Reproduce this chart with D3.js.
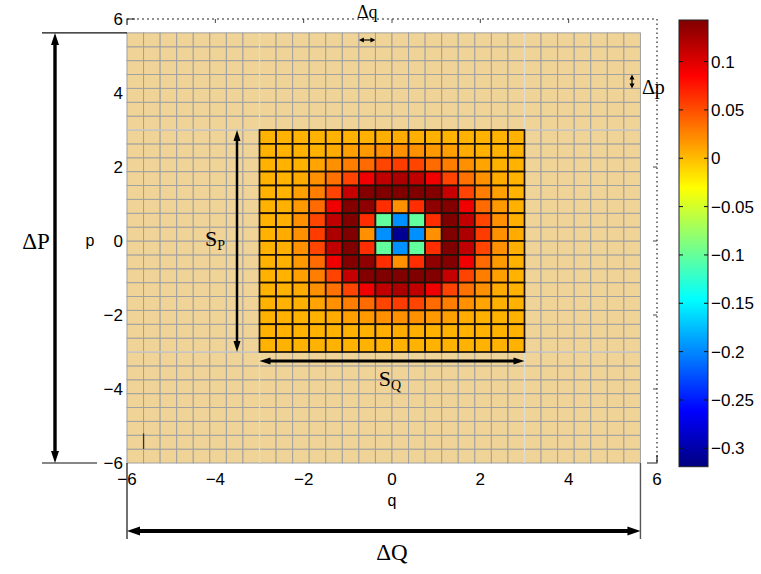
<!DOCTYPE html>
<html>
<head>
<meta charset="utf-8">
<script src="https://cdn.jsdelivr.net/npm/d3@7/dist/d3.min.js"></script>
<style>
  html, body { margin: 0; padding: 0; background: #fff; }
  svg { display: block; }
</style>
</head>
<body>
<svg id="chart" width="761" height="574"></svg>
<script>
// ---------------- DATA ----------------
const qTicks = [-6, -4, -2, 0, 2, 4, 6];
const pTicks = [-6, -4, -2, 0, 2, 4, 6];
const colorbarTicks = [0.1, 0.05, 0, -0.05, -0.1, -0.15, -0.2, -0.25, -0.3];
const colorbarLabels = ["0.1", "0.05", "0", "\u22120.05", "\u22120.1", "\u22120.15", "\u22120.2", "\u22120.25", "\u22120.3"];
const colorRange = [-0.319, 0.143];

// outer grid (phase-space cells)
const cellSize = 0.375;          // Δq = Δp
const gridStart = -6;            // first cell edge
const gridCells = 31;            // cells per side
// inner (support) region S_Q x S_P
const innerStart = -3;           // q and p of inner edge
const innerCells = 16;

// cell values of the inner region, rows from p = 3 (top) down to p = -3, columns from q = -3 to q = 3
const innerValues = [
  [.004,.004,.004,.004,.004,.004,.005,.006,.008,.006,.005,.004,.004,.004,.004,.004],
  [.004,.004,.004,.005,.008,.013,.016,.020,.020,.020,.016,.013,.008,.005,.004,.004],
  [.004,.004,.005,.011,.020,.028,.037,.054,.058,.054,.037,.028,.020,.011,.005,.004],
  [.004,.004,.008,.020,.034,.055,.092,.114,.123,.114,.092,.055,.034,.020,.008,.004],
  [.004,.004,.013,.028,.055,.111,.141,.143,.143,.143,.141,.111,.055,.028,.013,.004],
  [.004,.005,.016,.037,.092,.141,.136,.065,.020,.065,.136,.141,.092,.037,.016,.005],
  [.004,.006,.020,.054,.114,.143,.065,-.102,-.196,-.102,.065,.143,.114,.054,.020,.006],
  [.004,.008,.020,.058,.123,.143,.020,-.196,-.310,-.196,.020,.143,.123,.058,.020,.008],
  [.004,.006,.020,.054,.114,.143,.065,-.102,-.196,-.102,.065,.143,.114,.054,.020,.006],
  [.004,.005,.016,.037,.092,.141,.136,.065,.020,.065,.136,.141,.092,.037,.016,.005],
  [.004,.004,.013,.028,.055,.111,.141,.143,.143,.143,.141,.111,.055,.028,.013,.004],
  [.004,.004,.008,.020,.034,.055,.092,.114,.123,.114,.092,.055,.034,.020,.008,.004],
  [.004,.004,.005,.011,.020,.028,.037,.054,.058,.054,.037,.028,.020,.011,.005,.004],
  [.004,.004,.004,.005,.008,.013,.016,.020,.020,.020,.016,.013,.008,.005,.004,.004],
  [.004,.004,.004,.004,.004,.004,.005,.006,.008,.006,.005,.004,.004,.004,.004,.004],
  [.004,.004,.004,.004,.004,.004,.004,.004,.004,.004,.004,.004,.004,.004,.004,.004]
];

// ---------------- DRAWING ----------------
const svg = d3.select("#chart");
const x = d3.scaleLinear().domain([-6, 6]).range([127, 657]);
const y = d3.scaleLinear().domain([-6, 6]).range([463, 19]);

function jet(t) {
  t = Math.max(0, Math.min(1, t));
  const c = v => Math.round(255 * Math.max(0, Math.min(1, v)));
  return `rgb(${c(1.5 - Math.abs(4 * t - 3))},${c(1.5 - Math.abs(4 * t - 2))},${c(1.5 - Math.abs(4 * t - 1))})`;
}
const tScale = d3.scaleLinear().domain(colorRange).range([0, 1]).clamp(true);
const color = v => jet(tScale(v));

const sansFont = "'Liberation Sans', Arial, Helvetica, sans-serif";
const serifFont = "'Liberation Serif', 'DejaVu Serif', serif";

// outer grid cells
const outer = [];
for (let i = 0; i < gridCells; i++) for (let j = 0; j < gridCells; j++) {
  outer.push({ q: gridStart + i * cellSize, p: gridStart + j * cellSize });
}
svg.append("g").selectAll("rect").data(outer).join("rect")
  .attr("x", d => x(d.q)).attr("y", d => y(d.p + cellSize))
  .attr("width", d => x(d.q + cellSize) - x(d.q))
  .attr("height", d => y(d.p) - y(d.p + cellSize))
  .attr("fill", "#f0d396").attr("stroke", "#a0a0a0").attr("stroke-width", 1);

// lighter grid lines continuing the inner region edges
const gEnd = gridStart + gridCells * cellSize;
const lg = svg.append("g").attr("stroke", "#dcdcdc").attr("stroke-width", 1.2);
[innerStart, innerStart + innerCells * cellSize].forEach(v => {
  lg.append("line").attr("x1", x(v)).attr("x2", x(v)).attr("y1", y(gEnd)).attr("y2", y(gridStart));
  lg.append("line").attr("y1", y(v)).attr("y2", y(v)).attr("x1", x(gridStart)).attr("x2", x(gEnd));
});

// inner cells
const inner = [];
innerValues.forEach((row, r) => row.forEach((v, c) => {
  inner.push({ q: innerStart + c * cellSize, pTop: innerStart + innerCells * cellSize - r * cellSize, v });
}));
svg.append("g").selectAll("rect").data(inner).join("rect")
  .attr("x", d => x(d.q)).attr("y", d => y(d.pTop))
  .attr("width", d => x(d.q + cellSize) - x(d.q))
  .attr("height", d => y(d.pTop - cellSize) - y(d.pTop))
  .attr("fill", d => color(d.v))
  .attr("stroke", "#1a1208").attr("stroke-width", 1.7);

// small mark near bottom-left
svg.append("line").attr("x1", x(gridStart + cellSize)).attr("x2", x(gridStart + cellSize))
  .attr("y1", y(-5.2)).attr("y2", y(-5.62)).attr("stroke", "#333").attr("stroke-width", 1.3);

// axes box: dotted top and right
svg.append("line").attr("x1", x(-6)).attr("x2", x(6)).attr("y1", y(6)).attr("y2", y(6))
  .attr("stroke", "#222").attr("stroke-width", 1.2).attr("stroke-dasharray", "2,3");
svg.append("line").attr("x1", x(6)).attr("x2", x(6)).attr("y1", y(6)).attr("y2", y(-6))
  .attr("stroke", "#222").attr("stroke-width", 1.2).attr("stroke-dasharray", "1.5,3");
// solid corners
svg.append("path").attr("d", `M${x(-6)},${y(6) + 6}V${y(6)}H${x(-6) + 8}`).attr("fill", "none").attr("stroke", "#222").attr("stroke-width", 1.2);
svg.append("path").attr("d", `M${x(6) - 10},${y(-6)}H${x(6)}V${y(-6) - 8}`).attr("fill", "none").attr("stroke", "#222").attr("stroke-width", 1.2);
// small ticks on top and right
svg.append("g").selectAll("line").data(qTicks.slice(1, -1)).join("line")
  .attr("x1", d => x(d)).attr("x2", d => x(d)).attr("y1", y(6)).attr("y2", y(6) + 4)
  .attr("stroke", "#444").attr("stroke-width", 1);
svg.append("g").selectAll("line").data(pTicks.slice(1, -1)).join("line")
  .attr("x1", x(6) - 4).attr("x2", x(6)).attr("y1", d => y(d)).attr("y2", d => y(d))
  .attr("stroke", "#444").attr("stroke-width", 1);

// tick labels
const fmt = d => (d < 0 ? "\u2212" + Math.abs(d) : String(d));
svg.append("g").selectAll("text").data(qTicks).join("text")
  .attr("x", d => x(d)).attr("y", 485).attr("text-anchor", "middle")
  .attr("font-family", sansFont).attr("font-size", 17).attr("fill", "#000")
  .text(fmt);
svg.append("g").selectAll("text").data(pTicks).join("text")
  .attr("x", 123).attr("y", d => y(d) + 6).attr("text-anchor", "end")
  .attr("font-family", sansFont).attr("font-size", 17).attr("fill", "#000")
  .text(fmt);

// axis labels
svg.append("text").attr("x", x(0)).attr("y", 506).attr("text-anchor", "middle")
  .attr("font-family", sansFont).attr("font-size", 16).attr("fill", "#000").text("q");
svg.append("text").attr("x", 90).attr("y", y(0) + 5).attr("text-anchor", "middle")
  .attr("font-family", sansFont).attr("font-size", 16).attr("fill", "#000").text("p");

// arrows
function arrow(x1, y1, x2, y2, w, hl, hw) {
  const dx = x2 - x1, dy = y2 - y1, L = Math.hypot(dx, dy);
  const ux = dx / L, uy = dy / L, nx = -uy, ny = ux;
  const g = svg.append("g");
  g.append("line").attr("x1", x1 + ux * hl * 0.8).attr("y1", y1 + uy * hl * 0.8)
    .attr("x2", x2 - ux * hl * 0.8).attr("y2", y2 - uy * hl * 0.8)
    .attr("stroke", "#000").attr("stroke-width", w);
  const head = (px, py, sx, sy) => {
    const bx = px - sx * hl, by = py - sy * hl;
    return `M${px},${py}L${bx + nx * hw},${by + ny * hw}L${bx - nx * hw},${by - ny * hw}Z`;
  };
  g.append("path").attr("d", head(x2, y2, ux, uy)).attr("fill", "#000");
  g.append("path").attr("d", head(x1, y1, -ux, -uy)).attr("fill", "#000");
}
// ΔP
svg.append("line").attr("x1", 42).attr("x2", x(-6)).attr("y1", y(gEnd)).attr("y2", y(gEnd)).attr("stroke", "#111").attr("stroke-width", 1.2);
svg.append("line").attr("x1", 42).attr("x2", 97).attr("y1", y(-6)).attr("y2", y(-6)).attr("stroke", "#111").attr("stroke-width", 1.2);
arrow(55, y(gEnd), 55, y(-6), 3.4, 12, 4);
svg.append("text").attr("x", 36).attr("y", y(0) + 8).attr("text-anchor", "middle")
  .attr("font-family", serifFont).attr("font-size", 23).attr("fill", "#000").text("\u0394P");
// ΔQ
svg.append("line").attr("x1", x(-6)).attr("x2", x(-6)).attr("y1", y(-6)).attr("y2", 539).attr("stroke", "#111").attr("stroke-width", 1.2);
svg.append("line").attr("x1", x(gEnd)).attr("x2", x(gEnd)).attr("y1", y(-6)).attr("y2", 539).attr("stroke", "#555").attr("stroke-width", 1.4);
arrow(x(-6), 531, x(gEnd), 531, 4, 13, 4.5);
svg.append("text").attr("x", x(0)).attr("y", 560).attr("text-anchor", "middle")
  .attr("font-family", serifFont).attr("font-size", 23).attr("fill", "#000").text("\u0394Q");
// S_Q
const inEnd = innerStart + innerCells * cellSize;
arrow(x(innerStart), 361, x(inEnd), 361, 3, 11, 3.5);
const sq = svg.append("text").attr("x", x(0) - 2).attr("y", 386).attr("text-anchor", "middle")
  .attr("font-family", serifFont).attr("font-size", 22).attr("fill", "#000");
sq.append("tspan").text("S");
sq.append("tspan").attr("font-size", 14).attr("dy", 4).text("Q");
// S_P
arrow(237, y(inEnd), 237, y(innerStart), 2.5, 11, 3.5);
const sp = svg.append("text").attr("x", 215).attr("y", y(0) + 5).attr("text-anchor", "middle")
  .attr("font-family", serifFont).attr("font-size", 22).attr("fill", "#000");
sp.append("tspan").text("S");
sp.append("tspan").attr("font-size", 14).attr("dy", 4).text("P");
// Δq
arrow(x(-0.75), 40, x(-0.375), 40, 1.2, 5, 2.5);
svg.append("text").attr("x", x(-0.56)).attr("y", 18).attr("text-anchor", "middle")
  .attr("font-family", serifFont).attr("font-size", 18).attr("fill", "#000").text("\u0394q");
// Δp
arrow(632, y(4.5), 632, y(4.125), 1.2, 5, 2.5);
svg.append("text").attr("x", 642).attr("y", 94).attr("text-anchor", "start")
  .attr("font-family", serifFont).attr("font-size", 20).attr("fill", "#000").text("\u0394p");

// colorbar
const cbX = 679, cbW = 29;
const cbY = d3.scaleLinear().domain(colorRange).range([466.7, 20]);
const defs = svg.append("defs");
const grad = defs.append("linearGradient").attr("id", "jet").attr("x1", 0).attr("x2", 0).attr("y1", 1).attr("y2", 0);
d3.range(0, 65).forEach(i => {
  grad.append("stop").attr("offset", i / 64).attr("stop-color", jet(i / 64));
});
svg.append("rect").attr("x", cbX).attr("y", cbY(colorRange[1])).attr("width", cbW)
  .attr("height", cbY(colorRange[0]) - cbY(colorRange[1]))
  .attr("fill", "url(#jet)").attr("stroke", "#222").attr("stroke-width", 1);
const cbt = svg.append("g");
colorbarTicks.forEach((v, i) => {
  cbt.append("line").attr("x1", cbX).attr("x2", cbX + 4).attr("y1", cbY(v)).attr("y2", cbY(v)).attr("stroke", "#111");
  cbt.append("line").attr("x1", cbX + cbW - 4).attr("x2", cbX + cbW).attr("y1", cbY(v)).attr("y2", cbY(v)).attr("stroke", "#111");
  cbt.append("text").attr("x", cbX + cbW + 3).attr("y", cbY(v) + 6)
    .attr("font-family", sansFont).attr("font-size", 17).attr("fill", "#000").text(colorbarLabels[i]);
});
</script>
</body>
</html>
